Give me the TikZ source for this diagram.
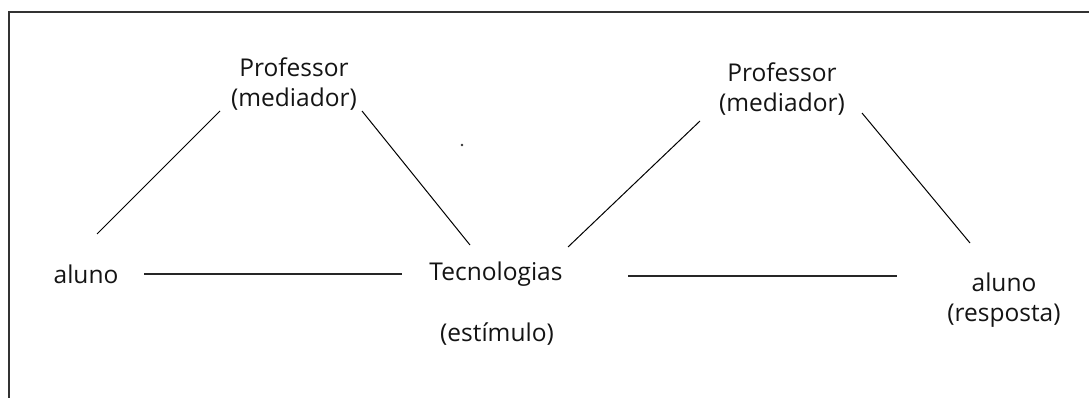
\documentclass[tikz,border=0pt]{standalone}
\usepackage{fontspec}
\setmainfont{Open Sans}
\usepackage{tikz}
\usetikzlibrary{positioning}
\definecolor{framegray}{RGB}{50,50,50}
\definecolor{textgray}{RGB}{20,20,20}
\tikzset{
    % labels of the triangle corners
    termo/.style={
        inner sep=0pt, align=center, text=textgray,
        font=\fontsize{24.5}{30}\selectfont
    },
    % thin links between the terms
    liga/.style={draw=black, line width=1pt},
    ligah/.style={draw=black!85, line width=1.8pt},
}

\begin{document}
\begin{tikzpicture}[x=1pt,y=-1pt]
      \useasboundingbox (0,0) rectangle (1089,398);
      \clip (0,0) rectangle (1089,398);
      % open frame, only left and top sides show
      \draw[framegray,line width=2pt] (8.5,420) -- (8.5,12) -- (1100,12);
      % corner labels
      \node[termo] (prof1) at (294,84)  {Professor\\(mediador)};
      \node[termo] (aluno1) at (86,274) {aluno};
      \node[termo] (tec) at (496,274)   {Tecnologias};
      \node[termo] (est) at (497,334)   {(estímulo)};
      \node[termo] (prof2) at (782,89)  {Professor\\(mediador)};
      \node[termo] (aluno2) at (1004,300) {aluno\\(resposta)};
      % line ends, kept loose from the labels
      \coordinate (a1) at (97,234);   \coordinate (p1l) at (220,111);
      \coordinate (p1r) at (362,111); \coordinate (t1) at (470,245);
      \coordinate (t2) at (568,247);  \coordinate (p2l) at (700,121);
      \coordinate (p2r) at (862,113); \coordinate (a2) at (970,243);
      \coordinate (h1) at (144,274);  \coordinate (h2) at (402,274);
      \coordinate (h3) at (628,276);  \coordinate (h4) at (897,276);
      \draw[liga] (a1) -- (p1l);
      \draw[liga] (p1r) -- (t1);
      \draw[liga] (t2) -- (p2l);
      \draw[liga] (p2r) -- (a2);
      \draw[ligah] (h1) -- (h2);
      \draw[ligah] (h3) -- (h4);
      \fill[black!80] (462,145) circle (1.3pt);
    \end{tikzpicture}
\end{document}
